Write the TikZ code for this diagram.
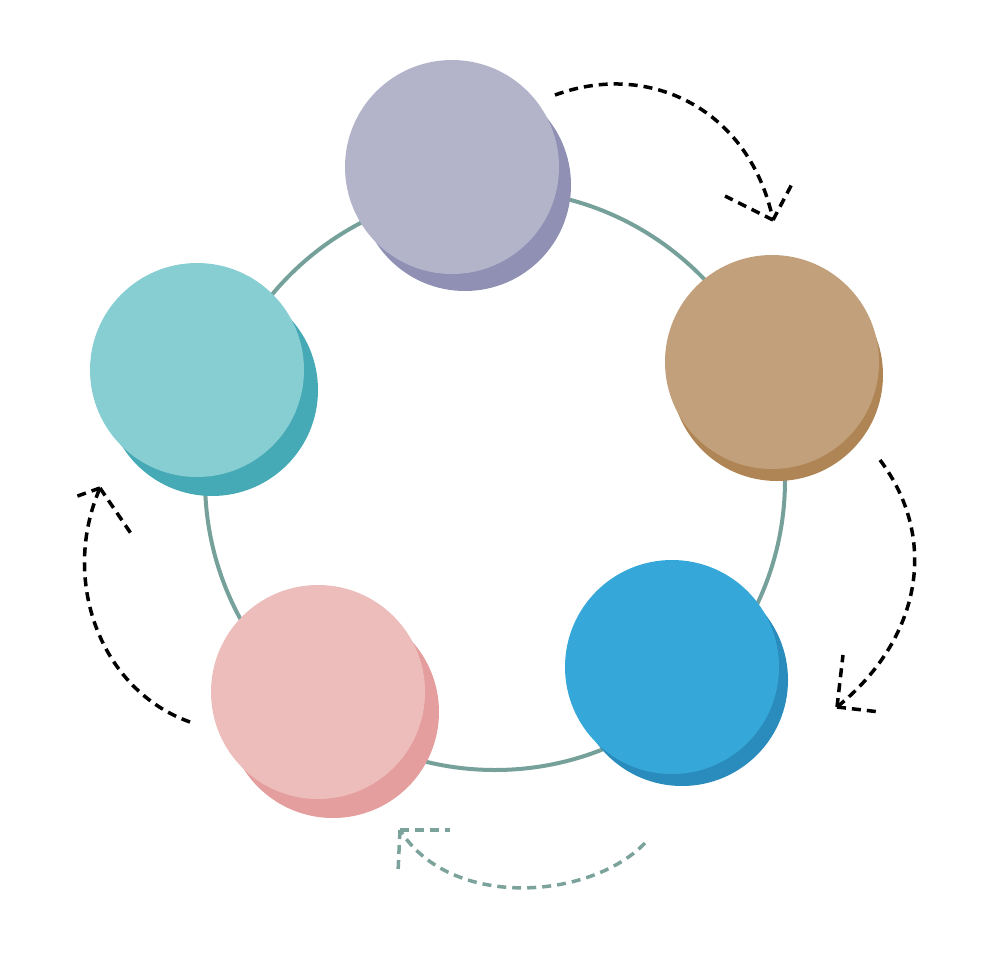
\documentclass[tikz,border=0pt]{standalone}
\begin{document}
\begin{tikzpicture}[x=1pt,y=-1pt]
\useasboundingbox (0,0) rectangle (980,980);
\tikzset{arr/.style={line width=3.5pt,dash pattern=on 9pt off 6pt,black},
 garr/.style={arr,draw=gray!40!teal!60!white}}
\definecolor{ring}{HTML}{76A19B}
\definecolor{f1}{HTML}{B3B4CA}\definecolor{s1}{HTML}{8F90B4}
\definecolor{f2}{HTML}{C2A07B}\definecolor{s2}{HTML}{B08555}
\definecolor{f3}{HTML}{35A8D9}\definecolor{s3}{HTML}{2A8BBD}
\definecolor{f4}{HTML}{EDBDBB}\definecolor{s4}{HTML}{E59E9E}
\definecolor{f5}{HTML}{87CED3}\definecolor{s5}{HTML}{45AAB6}
\definecolor{ga}{HTML}{7BA39C}
\node[circle,draw=ring,line width=4pt,minimum size=580pt,inner sep=0] (ringc) at (495,480) {};
\foreach \n/\fx/\fy/\sx/\sy in {1/452/167/465/185, 2/772/362/777/375, 3/672/667/682/680, 4/318/692/333/712, 5/197/370/212/390}{
 \node[circle,fill=s\n,minimum size=212pt,inner sep=0] (s\n) at (\sx,\sy) {};
 \node[circle,fill=f\n,minimum size=214pt,inner sep=0] (c\n) at (\fx,\fy) {};
}
% arrows
\coordinate (a1s) at (555,95); \coordinate (a1e) at (773,220);
\draw[arr] (a1s) .. controls (650,60) and (750,110) .. (a1e);
\draw[arr] (a1e) -- (725,196); \draw[arr] (a1e) -- (793,182);
\coordinate (a2s) at (880,460); \coordinate (a2e) at (837,707);
\draw[arr] (a2s) .. controls (940,540) and (920,640) .. (a2e);
\draw[arr] (a2e) -- (843,655); \draw[arr] (a2e) -- (880,712);
\coordinate (a3s) at (645,843); \coordinate (a3e) at (400,830);
\draw[arr,draw=ga] (a3s) .. controls (590,900) and (450,910) .. (a3e);
\draw[arr,draw=ga] (a3e) -- (450,830); \draw[arr,draw=ga] (a3e) -- (398,872);
\coordinate (a4s) at (190,722); \coordinate (a4e) at (100,488);
\draw[arr] (a4s) .. controls (100,690) and (60,580) .. (a4e);
\draw[arr] (a4e) -- (72,498); \draw[arr] (a4e) -- (132,535);
\end{tikzpicture}
\end{document}
